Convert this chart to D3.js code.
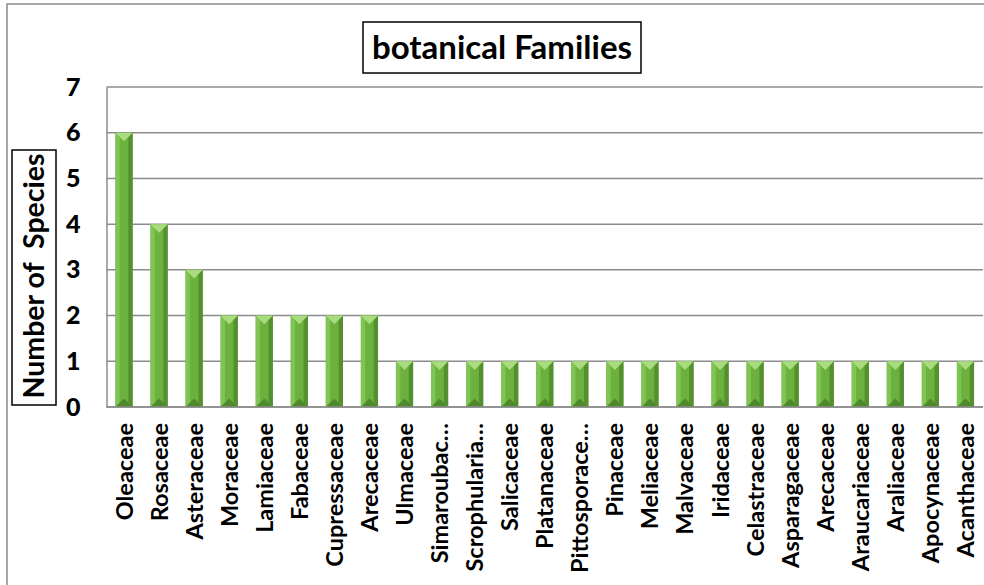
<!DOCTYPE html>
<html>
<head>
<meta charset="utf-8">
<script src="https://cdn.jsdelivr.net/npm/d3@7"></script>
<style>
  body { margin: 0; background: #fff; }
  text { font-family: Lato, "Liberation Sans", sans-serif; }
</style>
</head>
<body>
<script>
// families (Arecaceae appears twice in the original chart)
var families = ["Oleaceae", "Rosaceae", "Asteraceae", "Moraceae", "Lamiaceae",
    "Fabaceae", "Cupressaceae", "Arecaceae", "Ulmaceae", "Simaroubac\u2026",
    "Scrophularia\u2026", "Salicaceae", "Platanaceae", "Pittosporace\u2026", "Pinaceae",
    "Meliaceae", "Malvaceae", "Iridaceae", "Celastraceae", "Asparagaceae",
    "Arecaceae", "Araucariaceae", "Araliaceae", "Apocynaceae", "Acanthaceae"];
var species = [6, 4, 3, 2, 2, 2, 2, 2, 1, 1, 1, 1, 1, 1, 1, 1, 1, 1, 1, 1, 1, 1, 1, 1, 1];
var yTicks = [0, 1, 2, 3, 4, 5, 6, 7];

var width = 984, height = 585;
var plot = {left: 106.5, right: 983, top: 87, bottom: 407};

var svg = d3.select("body").append("svg")
    .attr("width", width)
    .attr("height", height);

// outer chart border (only top and left are visible in the frame)
svg.append("rect")
    .attr("x", 7).attr("y", 4)
    .attr("width", 1000).attr("height", 620)
    .attr("fill", "none")
    .attr("stroke", "#8a8a8a")
    .attr("stroke-width", 1.5);

var x = d3.scaleBand()
    .domain(d3.range(families.length))
    .range([plot.left, plot.right])
    .paddingInner(0.51)
    .paddingOuter(0.255);

var y = d3.scaleLinear()
    .domain([0, 7])
    .range([plot.bottom, plot.top]);

// gridlines
svg.append("g")
    .selectAll("line")
    .data(yTicks)
    .enter().append("line")
    .attr("x1", plot.left).attr("x2", plot.right)
    .attr("y1", function(d) { return y(d); })
    .attr("y2", function(d) { return y(d); })
    .attr("stroke", "#8c8c8c")
    .attr("stroke-width", 1.5);

// y axis
var yAxis = svg.append("g")
    .attr("transform", "translate(" + plot.left + ",0)")
    .call(d3.axisLeft(y).tickValues(yTicks).tickSize(0).tickPadding(26).tickFormat(d3.format("d")));
yAxis.select(".domain").attr("stroke", "#8c8c8c").attr("stroke-width", 1.5);
yAxis.selectAll("text")
    .attr("font-family", "Lato, sans-serif")
    .attr("font-size", 25)
    .attr("font-weight", 900)
    .attr("fill", "#000");

// bars with a bevel look
var bw = x.bandwidth();
var bars = svg.append("g")
    .selectAll("g")
    .data(species)
    .enter().append("g");

bars.append("rect")
    .attr("x", function(d, i) { return x(i); })
    .attr("y", function(d) { return y(d); })
    .attr("width", bw)
    .attr("height", function(d) { return y(0) - y(d); })
    .attr("fill", "#6cb13e");

// left strip
bars.append("polygon")
    .attr("points", function(d, i) {
        var x0 = x(i), t = y(d), b = y(0), e = bw * 0.25;
        return [[x0, t], [x0 + e, t + e], [x0 + e, b - e], [x0, b]].join(" ");
    })
    .attr("fill", "#80c453");

// right strip
bars.append("polygon")
    .attr("points", function(d, i) {
        var x1 = x(i) + bw, t = y(d), b = y(0), e = bw * 0.25;
        return [[x1, t], [x1 - e, t + e], [x1 - e, b - e], [x1, b]].join(" ");
    })
    .attr("fill", "#54902f");

// top triangle
bars.append("polygon")
    .attr("points", function(d, i) {
        var x0 = x(i), t = y(d), e = bw * 0.5;
        return [[x0, t], [x0 + bw, t], [x0 + e, t + e]].join(" ");
    })
    .attr("fill", "#a9dc7e");

// bottom triangle
bars.append("polygon")
    .attr("points", function(d, i) {
        var x0 = x(i), b = y(0), e = bw * 0.5;
        return [[x0, b], [x0 + bw, b], [x0 + e, b - e]].join(" ");
    })
    .attr("fill", "#4e8a2c");

// bottom axis line drawn on top
svg.append("line")
    .attr("x1", plot.left).attr("x2", plot.right)
    .attr("y1", y(0)).attr("y2", y(0))
    .attr("stroke", "#8c8c8c")
    .attr("stroke-width", 1.5);

// category labels, rotated
svg.append("g")
    .selectAll("text")
    .data(families)
    .enter().append("text")
    .attr("transform", function(d, i) {
        return "translate(" + (x(i) + bw / 2 + 8.5) + "," + (y(0) + 16) + ") rotate(-90)";
    })
    .attr("text-anchor", "end")
    .attr("font-size", 23.5)
    .attr("font-weight", "bold")
    .attr("fill", "#000")
    .text(function(d) { return d; });

// title box
var title = svg.append("g");
title.append("rect")
    .attr("x", 363).attr("y", 22)
    .attr("width", 278).attr("height", 51)
    .attr("fill", "#fff")
    .attr("stroke", "#000")
    .attr("stroke-width", 1.5);
title.append("text")
    .attr("x", 502).attr("y", 59)
    .attr("text-anchor", "middle")
    .attr("font-size", 33)
    .attr("font-weight", "bold")
    .text("botanical Families");

// y axis title box
var ytitle = svg.append("g");
ytitle.append("rect")
    .attr("x", 12).attr("y", 150)
    .attr("width", 44).attr("height", 255)
    .attr("fill", "#fff")
    .attr("stroke", "#000")
    .attr("stroke-width", 1.5);
ytitle.append("text")
    .attr("transform", "translate(44,276) rotate(-90)")
    .attr("text-anchor", "middle")
    .attr("font-size", 28.5)
    .attr("font-weight", "bold")
    .attr("xml:space", "preserve")
    .text("Number of  Species");
</script>
</body>
</html>
